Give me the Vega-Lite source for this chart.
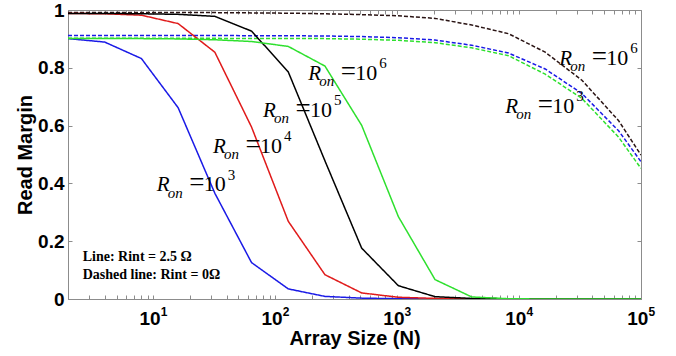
{
  "$schema": "https://vega.github.io/schema/vega-lite/v6.json",
  "width": 573,
  "height": 289,
  "autosize": "none",
  "padding": {"left": 68, "top": 10, "right": 35, "bottom": 57},
  "background": "white",
  "config": {
    "view": {"stroke": "#8c8c8c", "strokeWidth": 1},
    "axis": {"grid": false, "domainColor": "#8c8c8c", "tickColor": "#8c8c8c", "labelColor": "black", "titleColor": "black"}
  },
  "datasets": {
    "curves": [
      {"series": "k_dash", "style": "dashed", "N": 2, "v": 0.991},
      {"series": "k_dash", "style": "dashed", "N": 4, "v": 0.991},
      {"series": "k_dash", "style": "dashed", "N": 8, "v": 0.991},
      {"series": "k_dash", "style": "dashed", "N": 16, "v": 0.991},
      {"series": "k_dash", "style": "dashed", "N": 32, "v": 0.991},
      {"series": "k_dash", "style": "dashed", "N": 64, "v": 0.99},
      {"series": "k_dash", "style": "dashed", "N": 128, "v": 0.989},
      {"series": "k_dash", "style": "dashed", "N": 256, "v": 0.987},
      {"series": "k_dash", "style": "dashed", "N": 512, "v": 0.984},
      {"series": "k_dash", "style": "dashed", "N": 1024, "v": 0.98},
      {"series": "k_dash", "style": "dashed", "N": 2048, "v": 0.971},
      {"series": "k_dash", "style": "dashed", "N": 4096, "v": 0.948},
      {"series": "k_dash", "style": "dashed", "N": 8192, "v": 0.918},
      {"series": "k_dash", "style": "dashed", "N": 16384, "v": 0.854},
      {"series": "k_dash", "style": "dashed", "N": 32768, "v": 0.757},
      {"series": "k_dash", "style": "dashed", "N": 65536, "v": 0.617},
      {"series": "k_dash", "style": "dashed", "N": 100000, "v": 0.498},
      {"series": "b_dash", "style": "dashed", "N": 2, "v": 0.912},
      {"series": "b_dash", "style": "dashed", "N": 4, "v": 0.912},
      {"series": "b_dash", "style": "dashed", "N": 8, "v": 0.912},
      {"series": "b_dash", "style": "dashed", "N": 16, "v": 0.912},
      {"series": "b_dash", "style": "dashed", "N": 32, "v": 0.912},
      {"series": "b_dash", "style": "dashed", "N": 64, "v": 0.911},
      {"series": "b_dash", "style": "dashed", "N": 128, "v": 0.911},
      {"series": "b_dash", "style": "dashed", "N": 256, "v": 0.91},
      {"series": "b_dash", "style": "dashed", "N": 512, "v": 0.908},
      {"series": "b_dash", "style": "dashed", "N": 1024, "v": 0.904},
      {"series": "b_dash", "style": "dashed", "N": 2048, "v": 0.896},
      {"series": "b_dash", "style": "dashed", "N": 4096, "v": 0.878},
      {"series": "b_dash", "style": "dashed", "N": 8192, "v": 0.851},
      {"series": "b_dash", "style": "dashed", "N": 16384, "v": 0.796},
      {"series": "b_dash", "style": "dashed", "N": 32768, "v": 0.711},
      {"series": "b_dash", "style": "dashed", "N": 65536, "v": 0.582},
      {"series": "b_dash", "style": "dashed", "N": 100000, "v": 0.475},
      {"series": "g_dash", "style": "dashed", "N": 2, "v": 0.902},
      {"series": "g_dash", "style": "dashed", "N": 4, "v": 0.902},
      {"series": "g_dash", "style": "dashed", "N": 8, "v": 0.902},
      {"series": "g_dash", "style": "dashed", "N": 16, "v": 0.902},
      {"series": "g_dash", "style": "dashed", "N": 32, "v": 0.902},
      {"series": "g_dash", "style": "dashed", "N": 64, "v": 0.901},
      {"series": "g_dash", "style": "dashed", "N": 128, "v": 0.901},
      {"series": "g_dash", "style": "dashed", "N": 256, "v": 0.901},
      {"series": "g_dash", "style": "dashed", "N": 512, "v": 0.899},
      {"series": "g_dash", "style": "dashed", "N": 1024, "v": 0.895},
      {"series": "g_dash", "style": "dashed", "N": 2048, "v": 0.887},
      {"series": "g_dash", "style": "dashed", "N": 4096, "v": 0.869},
      {"series": "g_dash", "style": "dashed", "N": 8192, "v": 0.842},
      {"series": "g_dash", "style": "dashed", "N": 16384, "v": 0.778},
      {"series": "g_dash", "style": "dashed", "N": 32768, "v": 0.694},
      {"series": "g_dash", "style": "dashed", "N": 65536, "v": 0.56},
      {"series": "g_dash", "style": "dashed", "N": 100000, "v": 0.452},
      {"series": "b_1e3", "style": "solid", "N": 2, "v": 0.901},
      {"series": "b_1e3", "style": "solid", "N": 4, "v": 0.889},
      {"series": "b_1e3", "style": "solid", "N": 8, "v": 0.832},
      {"series": "b_1e3", "style": "solid", "N": 16, "v": 0.662},
      {"series": "b_1e3", "style": "solid", "N": 32, "v": 0.366},
      {"series": "b_1e3", "style": "solid", "N": 64, "v": 0.126},
      {"series": "b_1e3", "style": "solid", "N": 128, "v": 0.035},
      {"series": "b_1e3", "style": "solid", "N": 256, "v": 0.009},
      {"series": "b_1e3", "style": "solid", "N": 512, "v": 0.003},
      {"series": "b_1e3", "style": "solid", "N": 1024, "v": 0.001},
      {"series": "b_1e3", "style": "solid", "N": 2048, "v": 0},
      {"series": "b_1e3", "style": "solid", "N": 4096, "v": 0},
      {"series": "b_1e3", "style": "solid", "N": 8192, "v": 0},
      {"series": "b_1e3", "style": "solid", "N": 16384, "v": 0},
      {"series": "b_1e3", "style": "solid", "N": 32768, "v": 0},
      {"series": "b_1e3", "style": "solid", "N": 65536, "v": 0},
      {"series": "b_1e3", "style": "solid", "N": 100000, "v": 0},
      {"series": "r_1e4", "style": "solid", "N": 2, "v": 0.988},
      {"series": "r_1e4", "style": "solid", "N": 4, "v": 0.987},
      {"series": "r_1e4", "style": "solid", "N": 8, "v": 0.982},
      {"series": "r_1e4", "style": "solid", "N": 16, "v": 0.953},
      {"series": "r_1e4", "style": "solid", "N": 32, "v": 0.854},
      {"series": "r_1e4", "style": "solid", "N": 64, "v": 0.595},
      {"series": "r_1e4", "style": "solid", "N": 128, "v": 0.269},
      {"series": "r_1e4", "style": "solid", "N": 256, "v": 0.084},
      {"series": "r_1e4", "style": "solid", "N": 512, "v": 0.021},
      {"series": "r_1e4", "style": "solid", "N": 1024, "v": 0.006},
      {"series": "r_1e4", "style": "solid", "N": 2048, "v": 0.002},
      {"series": "r_1e4", "style": "solid", "N": 4096, "v": 0.001},
      {"series": "r_1e4", "style": "solid", "N": 8192, "v": 0},
      {"series": "r_1e4", "style": "solid", "N": 16384, "v": 0},
      {"series": "r_1e4", "style": "solid", "N": 32768, "v": 0},
      {"series": "r_1e4", "style": "solid", "N": 65536, "v": 0},
      {"series": "r_1e4", "style": "solid", "N": 100000, "v": 0},
      {"series": "k_1e5", "style": "solid", "N": 2, "v": 0.988},
      {"series": "k_1e5", "style": "solid", "N": 4, "v": 0.988},
      {"series": "k_1e5", "style": "solid", "N": 8, "v": 0.987},
      {"series": "k_1e5", "style": "solid", "N": 16, "v": 0.985},
      {"series": "k_1e5", "style": "solid", "N": 32, "v": 0.978},
      {"series": "k_1e5", "style": "solid", "N": 64, "v": 0.927},
      {"series": "k_1e5", "style": "solid", "N": 128, "v": 0.786},
      {"series": "k_1e5", "style": "solid", "N": 256, "v": 0.478},
      {"series": "k_1e5", "style": "solid", "N": 512, "v": 0.176},
      {"series": "k_1e5", "style": "solid", "N": 1024, "v": 0.046},
      {"series": "k_1e5", "style": "solid", "N": 2048, "v": 0.008},
      {"series": "k_1e5", "style": "solid", "N": 4096, "v": 0.002},
      {"series": "k_1e5", "style": "solid", "N": 8192, "v": 0.001},
      {"series": "k_1e5", "style": "solid", "N": 16384, "v": 0},
      {"series": "k_1e5", "style": "solid", "N": 32768, "v": 0},
      {"series": "k_1e5", "style": "solid", "N": 65536, "v": 0},
      {"series": "k_1e5", "style": "solid", "N": 100000, "v": 0},
      {"series": "g_1e6", "style": "solid", "N": 2, "v": 0.901},
      {"series": "g_1e6", "style": "solid", "N": 4, "v": 0.901},
      {"series": "g_1e6", "style": "solid", "N": 8, "v": 0.901},
      {"series": "g_1e6", "style": "solid", "N": 16, "v": 0.9},
      {"series": "g_1e6", "style": "solid", "N": 32, "v": 0.897},
      {"series": "g_1e6", "style": "solid", "N": 64, "v": 0.891},
      {"series": "g_1e6", "style": "solid", "N": 128, "v": 0.874},
      {"series": "g_1e6", "style": "solid", "N": 256, "v": 0.806},
      {"series": "g_1e6", "style": "solid", "N": 512, "v": 0.601},
      {"series": "g_1e6", "style": "solid", "N": 1024, "v": 0.285},
      {"series": "g_1e6", "style": "solid", "N": 2048, "v": 0.067},
      {"series": "g_1e6", "style": "solid", "N": 4096, "v": 0.007},
      {"series": "g_1e6", "style": "solid", "N": 8192, "v": 0.001},
      {"series": "g_1e6", "style": "solid", "N": 16384, "v": 0},
      {"series": "g_1e6", "style": "solid", "N": 32768, "v": 0},
      {"series": "g_1e6", "style": "solid", "N": 65536, "v": 0},
      {"series": "g_1e6", "style": "solid", "N": 100000, "v": 0}
    ],
    "labels": [
      {"N": 10.71, "v": 0.372, "exp": "3"},
      {"N": 30.9, "v": 0.505, "exp": "4"},
      {"N": 79.6, "v": 0.631, "exp": "5"},
      {"N": 186.3, "v": 0.758, "exp": "6"},
      {"N": 21400, "v": 0.81, "exp": "6"},
      {"N": 7700, "v": 0.643, "exp": "3"}
    ],
    "notes": [
      {"N": 2.64, "v": 0.13, "text": "Line: Rint = 2.5 Ω"},
      {"N": 2.64, "v": 0.0702, "text": "Dashed line: Rint = 0Ω"}
    ],
    "xexp": [
      {"N": 10, "v": 0, "e": "1"},
      {"N": 100, "v": 0, "e": "2"},
      {"N": 1000, "v": 0, "e": "3"},
      {"N": 10000, "v": 0, "e": "4"},
      {"N": 100000, "v": 0, "e": "5"}
    ]
  },
  "layer": [
    {
      "data": {"name": "curves"},
      "mark": {"type": "line", "strokeWidth": 1.5, "clip": true},
      "encoding": {
        "x": {
          "field": "N", "type": "quantitative",
          "scale": {"type": "log", "domain": [2, 100000], "nice": false},
          "axis": {
            "orient": "bottom",
            "values": [2,3,4,5,6,7,8,9,10,20,30,40,50,60,70,80,90,100,200,300,400,500,600,700,800,900,1000,2000,3000,4000,5000,6000,7000,8000,9000,10000,20000,30000,40000,50000,60000,70000,80000,90000,100000],
            "labelExpr": "indexof([10,100,1000,10000,100000], datum.value) >= 0 ? '10' : ''",
            "labelFont": "Liberation Sans", "labelFontWeight": "bold", "labelFontSize": 19,
            "labelOverlap": false, "labelFlush": false, "labelPadding": 14.4, "labelOffset": -3.7,
            "tickSize": -4,
            "title": "Array Size (N)", "titleFont": "Liberation Sans", "titleFontSize": 20, "titleFontWeight": "bold", "titlePadding": 0
          }
        },
        "y": {
          "field": "v", "type": "quantitative",
          "scale": {"domain": [0, 1], "nice": false, "zero": false},
          "axis": {
            "orient": "left",
            "values": [0, 0.2, 0.4, 0.6, 0.8, 1],
            "format": "~g",
            "labelFont": "Liberation Sans", "labelFontWeight": "bold", "labelFontSize": 19,
            "labelPadding": 8, "labelFlush": false,
            "tickSize": -4,
            "title": "Read Margin", "titleFont": "Liberation Sans", "titleFontSize": 20, "titleFontWeight": "bold", "titlePadding": 2
          }
        },
        "color": {
          "field": "series", "type": "nominal",
          "scale": {
            "domain": ["k_dash", "b_dash", "g_dash", "b_1e3", "r_1e4", "k_1e5", "g_1e6"],
            "range": ["#2a1414", "#1a1ae6", "#2ee02e", "#1a1ae6", "#e01a1a", "#000000", "#2ee02e"]
          },
          "legend": null
        },
        "strokeDash": {
          "field": "style", "type": "nominal",
          "scale": {"domain": ["solid", "dashed"], "range": [[1, 0], [4, 2]]},
          "legend": null
        }
      }
    },
    {
      "data": {"name": "curves"},
      "mark": {"type": "point", "opacity": 0},
      "encoding": {
        "x": {
          "field": "N", "type": "quantitative",
          "scale": {"type": "log", "domain": [2, 100000], "nice": false},
          "axis": {
            "orient": "top",
            "values": [2,3,4,5,6,7,8,9,10,20,30,40,50,60,70,80,90,100,200,300,400,500,600,700,800,900,1000,2000,3000,4000,5000,6000,7000,8000,9000,10000,20000,30000,40000,50000,60000,70000,80000,90000,100000],
            "labels": false, "tickSize": -4, "domain": false, "title": null
          }
        },
        "y": {
          "field": "v", "type": "quantitative",
          "scale": {"domain": [0, 1], "nice": false, "zero": false},
          "axis": {"orient": "right", "values": [0, 0.2, 0.4, 0.6, 0.8, 1], "labels": false, "tickSize": -4, "domain": false, "title": null}
        }
      }
    },
    {
      "data": {"name": "xexp"},
      "mark": {"type": "text", "font": "Liberation Sans", "fontWeight": "bold", "fontSize": 12, "align": "left", "baseline": "alphabetic", "dx": 7.5, "dy": 16.5, "color": "black"},
      "encoding": {
        "x": {"field": "N", "type": "quantitative", "scale": {"type": "log", "domain": [2, 100000], "nice": false}, "axis": null},
        "y": {"field": "v", "type": "quantitative", "scale": {"domain": [0, 1], "nice": false, "zero": false}, "axis": null},
        "text": {"field": "e"}
      }
    },
    {
      "data": {"name": "labels"},
      "mark": {"type": "text", "text": "R", "font": "Liberation Serif", "fontStyle": "italic", "fontSize": 21, "align": "left", "baseline": "alphabetic", "color": "black"},
      "encoding": {
        "x": {"field": "N", "type": "quantitative", "scale": {"type": "log", "domain": [2, 100000], "nice": false}, "axis": null},
        "y": {"field": "v", "type": "quantitative", "scale": {"domain": [0, 1], "nice": false, "zero": false}, "axis": null}
      }
    },
    {
      "data": {"name": "labels"},
      "mark": {"type": "text", "text": "on", "font": "Liberation Serif", "fontStyle": "italic", "fontSize": 15, "align": "left", "baseline": "alphabetic", "dx": 11, "dy": 6.3, "color": "black"},
      "encoding": {
        "x": {"field": "N", "type": "quantitative", "scale": {"type": "log", "domain": [2, 100000], "nice": false}, "axis": null},
        "y": {"field": "v", "type": "quantitative", "scale": {"domain": [0, 1], "nice": false, "zero": false}, "axis": null}
      }
    },
    {
      "data": {"name": "labels"},
      "mark": {"type": "text", "text": "=", "font": "Liberation Serif", "fontSize": 27, "align": "left", "baseline": "alphabetic", "dx": 32.5, "color": "black"},
      "encoding": {
        "x": {"field": "N", "type": "quantitative", "scale": {"type": "log", "domain": [2, 100000], "nice": false}, "axis": null},
        "y": {"field": "v", "type": "quantitative", "scale": {"domain": [0, 1], "nice": false, "zero": false}, "axis": null}
      }
    },
    {
      "data": {"name": "labels"},
      "mark": {"type": "text", "text": "10", "font": "Liberation Serif", "fontSize": 22, "align": "left", "baseline": "alphabetic", "dx": 47, "color": "black"},
      "encoding": {
        "x": {"field": "N", "type": "quantitative", "scale": {"type": "log", "domain": [2, 100000], "nice": false}, "axis": null},
        "y": {"field": "v", "type": "quantitative", "scale": {"domain": [0, 1], "nice": false, "zero": false}, "axis": null}
      }
    },
    {
      "data": {"name": "labels"},
      "mark": {"type": "text", "font": "Liberation Serif", "fontSize": 15, "align": "left", "baseline": "alphabetic", "dx": 71, "dy": -11.7, "color": "black"},
      "encoding": {
        "x": {"field": "N", "type": "quantitative", "scale": {"type": "log", "domain": [2, 100000], "nice": false}, "axis": null},
        "y": {"field": "v", "type": "quantitative", "scale": {"domain": [0, 1], "nice": false, "zero": false}, "axis": null},
        "text": {"field": "exp"}
      }
    },
    {
      "data": {"name": "notes"},
      "mark": {"type": "text", "font": "Liberation Serif", "fontWeight": "bold", "fontSize": 14, "align": "left", "baseline": "alphabetic", "color": "black"},
      "encoding": {
        "x": {"field": "N", "type": "quantitative", "scale": {"type": "log", "domain": [2, 100000], "nice": false}, "axis": null},
        "y": {"field": "v", "type": "quantitative", "scale": {"domain": [0, 1], "nice": false, "zero": false}, "axis": null},
        "text": {"field": "text"}
      }
    }
  ],
  "resolve": {"axis": {"x": "independent", "y": "independent"}}
}
